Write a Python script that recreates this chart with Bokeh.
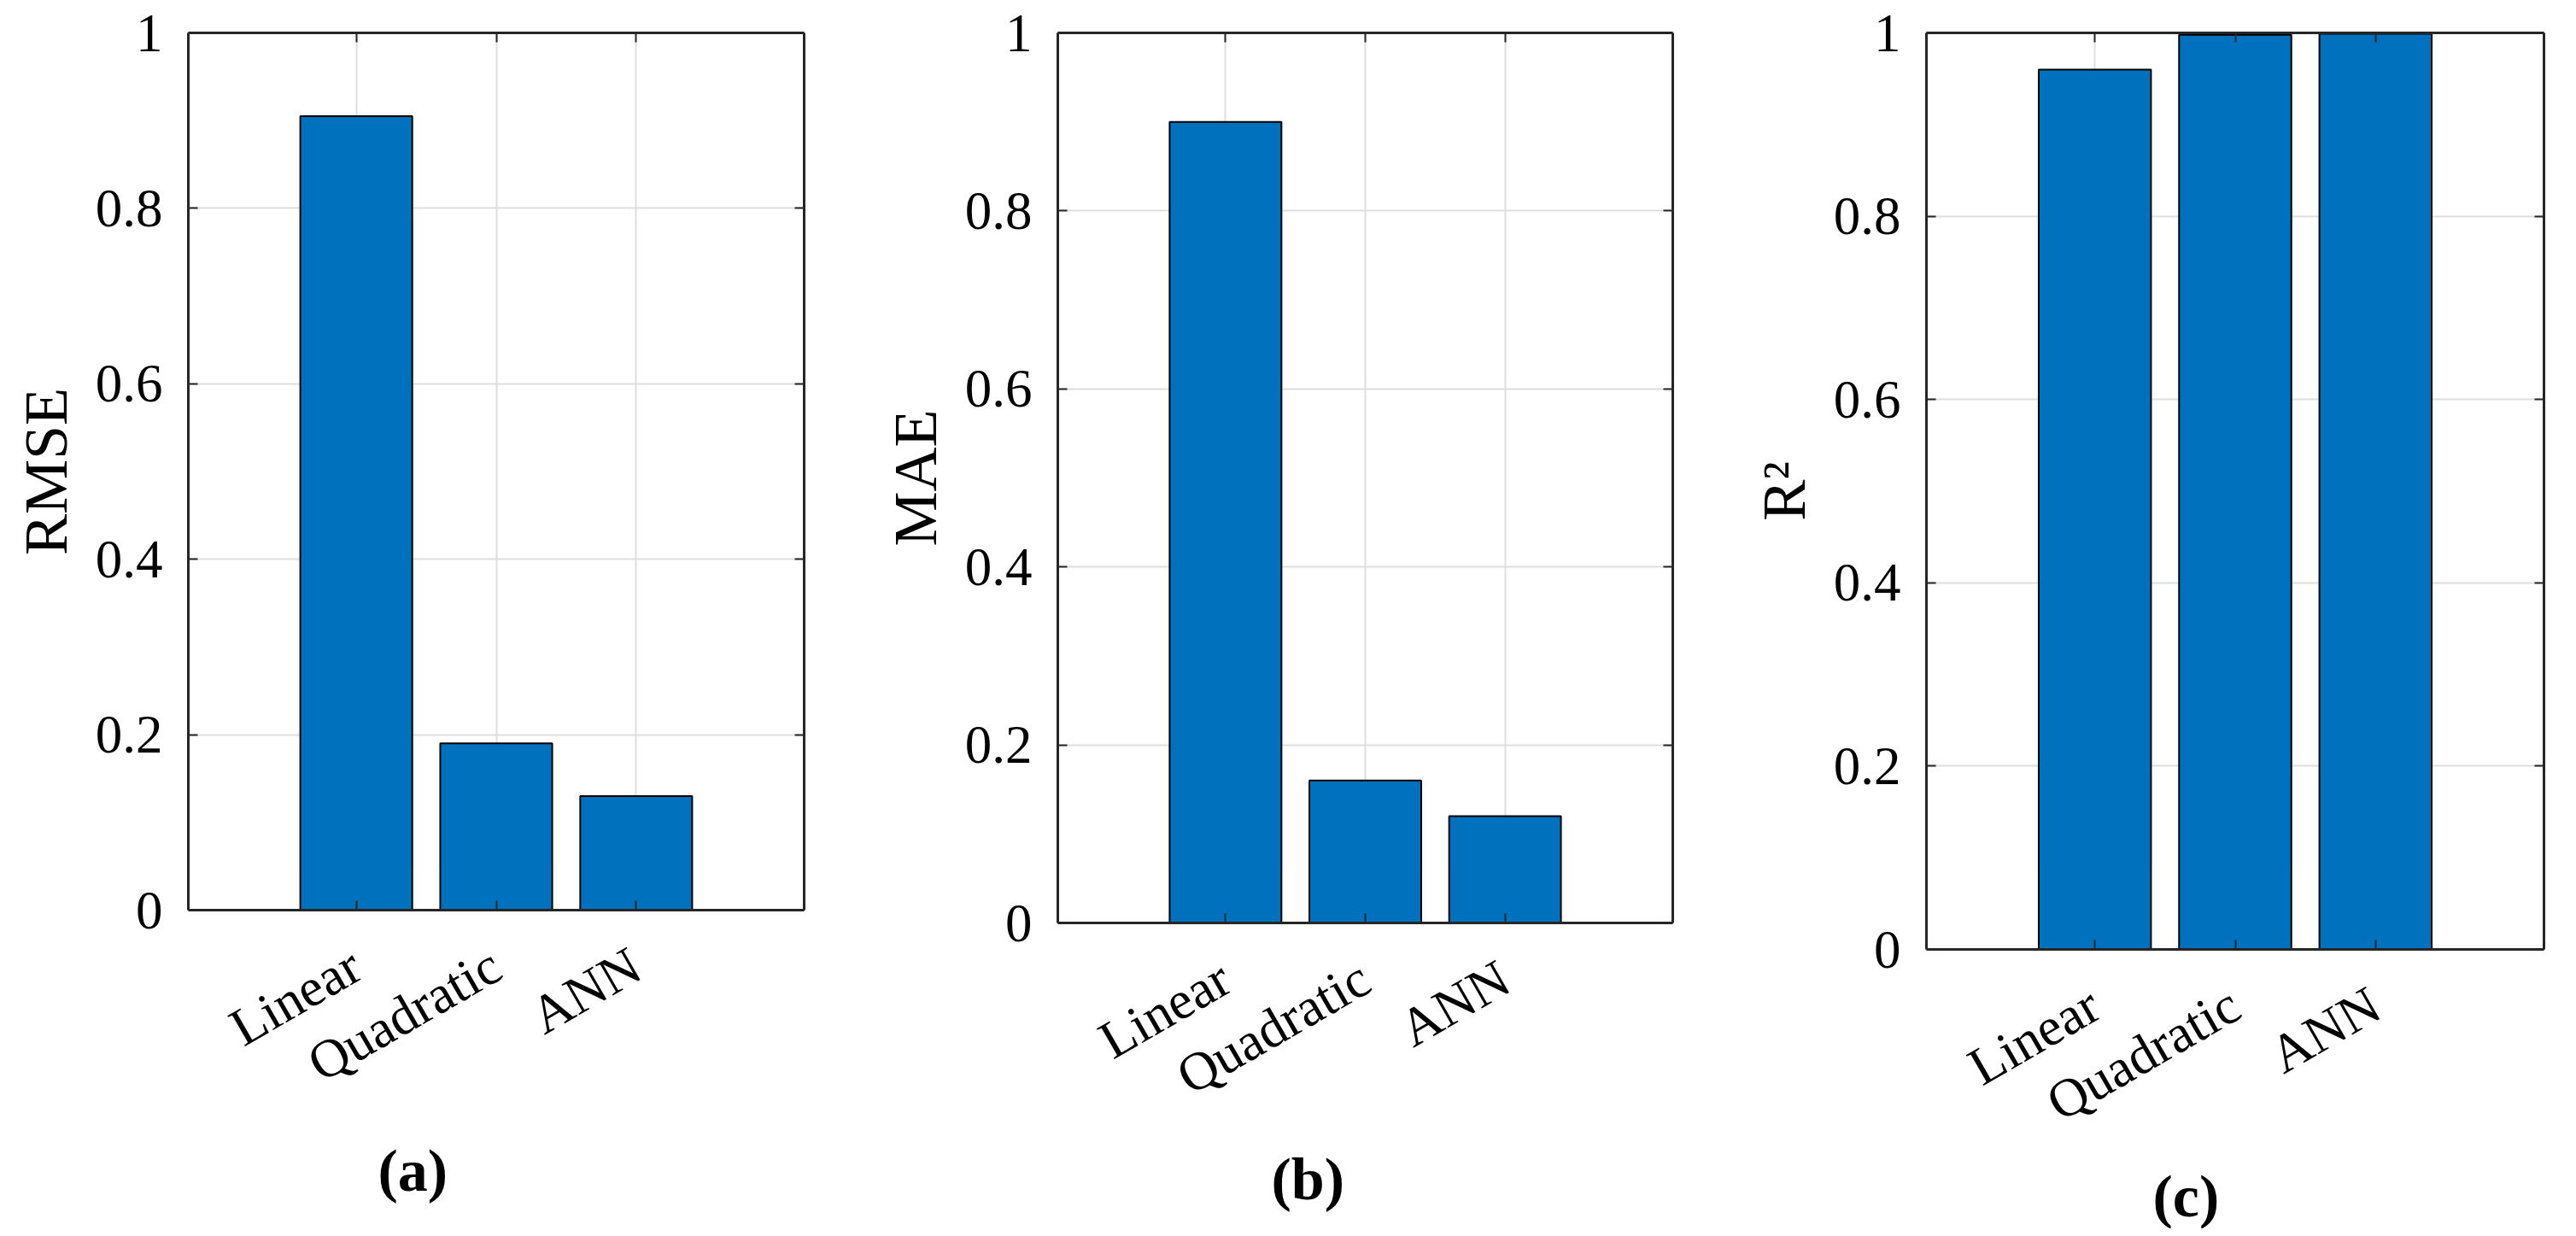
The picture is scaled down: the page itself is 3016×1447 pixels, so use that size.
from math import pi
from bokeh.plotting import figure
from bokeh.models import Range1d, FixedTicker, LinearAxis, Title
from bokeh.layouts import row
from bokeh.embed import file_html
from bokeh.resources import INLINE

# ---- data ----
categories = ["Linear", "Quadratic", "ANN"]
positions = [1, 2, 3]
rmse = [0.905, 0.19, 0.13]
mae = [0.90, 0.16, 0.12]
r2 = [0.96, 0.998, 0.999]
y_ticks = [0, 0.2, 0.4, 0.6, 0.8, 1]
y_tick_labels = ["0", "0.2", "0.4", "0.6", "0.8", "1"]
panel_titles = ["RMSE", "MAE", "R\u00b2"]
panel_tags = ["(a)", "(b)", "(c)"]

FONT = "Liberation Serif"
AX = "#262626"
BAR = "#0072BD"

# layout: (left border, frame_w, right border, frame_h, bottom border, tag offset, tag standoff)
TOP = 38
layout = [
    (220, 721, 59, 1027, 365, 222, 32),
    (238, 720, 42, 1042, 350, 250, 23),
    (255, 723, 22, 1073, 319, 265, 0),
]
series = [rmse, mae, r2]


def make_panel(values, ylabel, tag, lay):
    left, fw, right, fh, bottom, toff, tstand = lay
    p = figure(frame_width=fw, frame_height=fh,
               x_range=Range1d(-0.2, 4.2), y_range=Range1d(0, 1),
               output_backend="svg", toolbar_location=None,
               min_border_left=left, min_border_right=right,
               min_border_top=TOP, min_border_bottom=bottom,
               background_fill_color="white", border_fill_color="white")
    p.outline_line_color = None

    p.vbar(x=positions, top=values, width=0.8, fill_color=BAR,
           line_color="black", line_width=2)

    xax = p.xaxis[0]
    yax = p.yaxis[0]
    xax.ticker = FixedTicker(ticks=positions)
    xax.major_label_overrides = {pos: c for pos, c in zip(positions, categories)}
    xax.major_label_orientation = pi / 6
    yax.ticker = FixedTicker(ticks=y_ticks)
    yax.major_label_overrides = {t: s for t, s in zip(y_ticks, y_tick_labels)}
    for ax in (xax, yax):
        ax.axis_line_color = AX
        ax.axis_line_width = 3
        ax.major_tick_line_color = AX
        ax.major_tick_line_width = 2
        ax.major_tick_in = 11
        ax.major_tick_out = 0
        ax.minor_tick_line_color = None
        ax.major_label_text_font = FONT
        ax.major_label_text_font_size = "63px"
        ax.major_label_text_color = "black"
        ax.major_label_standoff = 30
    xax.major_label_standoff = 60
    yax.axis_label = ylabel
    yax.axis_label_text_font = FONT
    yax.axis_label_text_font_size = "72px"
    yax.axis_label_text_font_style = "normal"
    yax.axis_label_text_color = "black"
    yax.axis_label_standoff = 15

    top_ax = LinearAxis(ticker=FixedTicker(ticks=positions))
    right_ax = LinearAxis(ticker=FixedTicker(ticks=y_ticks))
    for ax in (top_ax, right_ax):
        ax.axis_line_color = AX
        ax.axis_line_width = 3
        ax.major_tick_line_color = AX
        ax.major_tick_line_width = 2
        ax.major_tick_in = 11
        ax.major_tick_out = 0
        ax.minor_tick_line_color = None
        ax.major_label_text_font_size = "1px"
        ax.major_label_text_color = None
        ax.major_label_standoff = 0
    p.add_layout(top_ax, "above")
    p.add_layout(right_ax, "right")

    p.xgrid.ticker = FixedTicker(ticks=positions)
    p.ygrid.ticker = FixedTicker(ticks=y_ticks)
    for g in (p.xgrid[0], p.ygrid[0]):
        g.grid_line_color = "#dedede"
        g.grid_line_width = 2

    p.add_layout(Title(text=tag, align="left", offset=toff, standoff=tstand,
                       text_font=FONT, text_font_size="70px",
                       text_font_style="bold", text_color="black"), "below")
    return p


panels = [make_panel(v, t, g, l) for v, t, g, l in zip(series, panel_titles, panel_tags, layout)]
page = row(*panels)
open("out.html", "w").write(file_html(page, INLINE))
